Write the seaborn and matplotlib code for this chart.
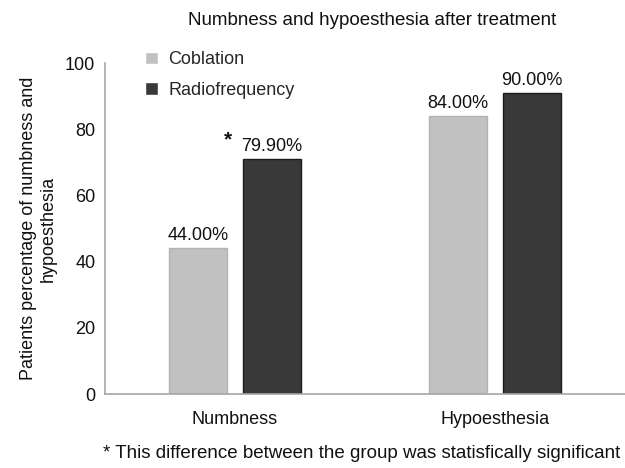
import matplotlib
matplotlib.use('Agg')
import matplotlib.pyplot as plt
import pandas as pd
import seaborn as sns

# Data
categories = ['Numbness', 'Hypoesthesia']
groups = ['Coblation', 'Radiofrequency']
coblation_values = [44, 84]
radiofrequency_values = [71, 91]
coblation_labels = ['44.00%', '84.00%']
radiofrequency_labels = ['79.90%', '90.00%']
significant = [('Radiofrequency', 'Numbness')]

TITLE = 'Numbness and hypoesthesia after treatment'
YLABEL = 'Patients percentage of numbness and\nhypoesthesia'
FOOTNOTE = '* This difference between the group was statisfically significant'

colors = {'Coblation': '#c1c1c1', 'Radiofrequency': '#393939'}
edges = {'Coblation': '#b3b3b3', 'Radiofrequency': '#1c1c1c'}

# Build long dataframe for seaborn
df = pd.DataFrame({
    'Category': categories * 2,
    'Group': [groups[0]] * len(categories) + [groups[1]] * len(categories),
    'Value': coblation_values + radiofrequency_values,
    'Label': coblation_labels + radiofrequency_labels,
})

sns.set_style('white')
plt.rcParams['font.family'] = ['Liberation Sans', 'DejaVu Sans']

fig = plt.figure(figsize=(6.25, 4.68), dpi=100)
ax = fig.add_axes([0.168, 0.158, 0.832, 0.707])

sns.barplot(data=df, x='Category', y='Value', hue='Group', order=categories,
            hue_order=groups, palette=colors, width=0.571, gap=0.222,
            saturation=1, ax=ax, legend=True)

# Edge colours and value labels
for container, grp in zip(ax.containers, groups):
    sub = df[df['Group'] == grp].set_index('Category').loc[categories]
    for bar, cat in zip(container, categories):
        bar.set_edgecolor(edges[grp])
        bar.set_linewidth(1.0)
        cx = bar.get_x() + bar.get_width() / 2
        h = bar.get_height()
        ax.annotate(sub.loc[cat, 'Label'], (cx, h), xytext=(0, 3),
                    textcoords='offset points', ha='center', va='bottom',
                    fontsize=13, color='#111111')
        if (grp, cat) in significant:
            ax.annotate('*', (bar.get_x(), h), xytext=(-11, 7),
                        textcoords='offset points', ha='center', va='bottom',
                        fontsize=15, fontweight='bold', color='#111111')

ax.set_ylim(0, 100)
ax.set_xlim(-0.5, 1.5)
ax.set_yticks([0, 20, 40, 60, 80, 100])
ax.tick_params(axis='both', length=0, labelsize=13, colors='#111111')
ax.tick_params(axis='y', pad=7)
ax.tick_params(axis='x', pad=12)
ax.set_xlabel('')
ax.set_ylabel(YLABEL, fontsize=13, color='#111111', labelpad=6)

for side in ['top', 'right']:
    ax.spines[side].set_visible(False)
for side in ['left', 'bottom']:
    ax.spines[side].set_color('#a6a6a6')
    ax.spines[side].set_linewidth(1.2)

ax.legend(loc='upper left', bbox_to_anchor=(0.077, 1.036), frameon=False,
          fontsize=13, handlelength=0.7, handleheight=0.7, handletextpad=0.6,
          labelspacing=0.75, borderpad=0, borderaxespad=0)

fig.text(0.595, 0.957, TITLE, ha='center', va='center', fontsize=13.5, color='#111111')
fig.text(0.578, 0.030, FOOTNOTE, ha='center', va='center', fontsize=13.5, color='#111111')

fig.savefig('out.png', dpi=100)
